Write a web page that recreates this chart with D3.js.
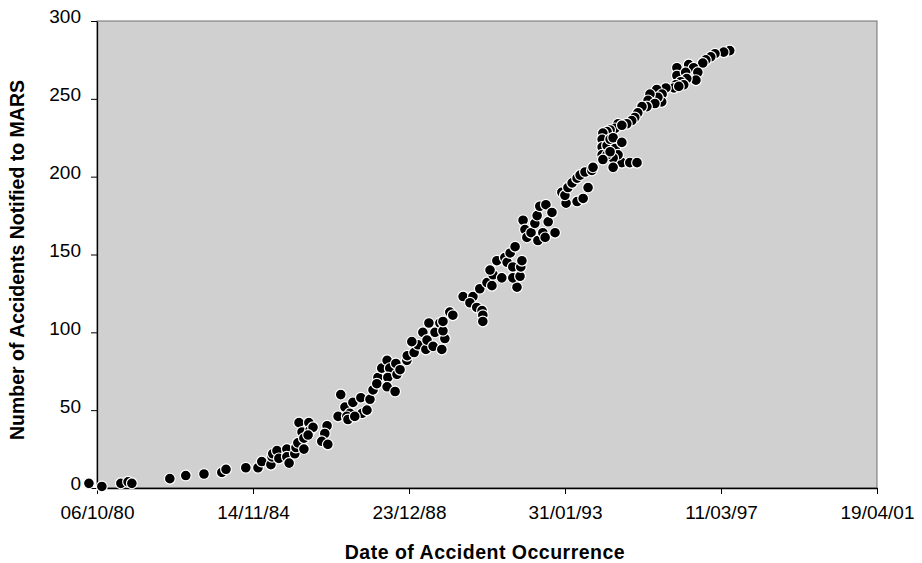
<!DOCTYPE html>
<html>
<head>
<meta charset="utf-8">
<script src="https://cdn.jsdelivr.net/npm/d3@7"></script>
<style>
  body { margin: 0; background: #fff; }
  text { font-family: "Liberation Sans", Arial, sans-serif; fill: #000; }
  .title { font-weight: bold; font-size: 19.5px; }
  .tick text { font-size: 19px; }
</style>
</head>
<body>
<svg id="chart"></svg>
<script>
// occurrence date (decimal year) and number of accidents notified
var region1Years = [1980.55,1980.89,1981.39,1981.58,1981.68,1982.68,1983.10,1983.58,1984.05,1984.16,1984.68,1985.00,1985.10,1985.34,1985.37,1985.39,1985.50,1985.55,1985.76,1985.76,1985.82,1985.97,1986.00,1986.05,1986.08,1986.34,1986.16,1986.21,1986.21,1986.37,1986.45,1986.32,1986.82,1986.76,1986.68,1986.84,1987.11]
var region1Counts = [3,1,3,4,3,6,8,9,10,12,13,13,17,15,20,22,24,19,25,20,16,22,26,29,42,42,36,32,25,37,39,34,40,35,30,28,46]

var region2Years = [1987.18,1987.29,1987.42,1987.50,1987.71,1987.74,1987.95,1987.34,1987.37,1987.55,1987.87,1988.03,1988.16,1988.13,1988.26,1988.40,1988.47,1988.42,1988.40,1988.61,1988.63,1988.66,1988.74,1988.92,1988.93,1989.08,1989.11,1989.21,1989.05,1989.34,1989.50,1989.42,1989.45,1989.61,1989.66,1989.79,1989.92,1989.87,1989.84]
var region2Counts = [60,52,48,55,58,48,57,46,44,46,50,63,71,67,77,82,77,71,65,62,80,73,76,82,85,93,87,92,94,100,106,89,95,91,100,106,96,101,89]

var region3Years = [1990.05,1989.87,1990.13,1990.40,1990.66,1990.58,1990.76,1990.90,1990.92,1990.92,1990.84,1991.03,1991.16,1991.19,1991.11,1991.29,1991.42,1991.50,1991.56,1991.64,1991.71,1991.82,1991.71,1991.90,1991.92,1991.77,1991.95,1991.98,1992.03,1992.08,1992.19,1992.29,1992.35,1992.37,1992.42,1992.50,1992.58,1992.56,1992.64,1992.74,1992.82]
var region3Counts = [113,107,111,123,123,119,116,114,111,107,128,132,130,137,140,146,135,148,145,151,142,129,135,136,142,155,146,172,166,161,164,170,175,159,181,164,182,161,171,177,164]

var region4Years = [1993.00,1993.11,1993.08,1993.16,1993.27,1993.40,1993.48,1993.61,1993.79,1993.40,1993.56,1993.69,1993.82,1994.48,1994.40,1994.27,1994.19,1994.08,1994.06,1994.06,1994.06,1994.19,1994.27,1994.35,1994.40,1994.58,1994.58,1994.48,1994.35,1994.19,1994.27,1994.08,1994.35,1994.79,1994.98]
var region4Counts = [190,183,188,193,196,199,201,203,204,184,186,193,206,234,231,230,229,228,224,219,214,220,224,225,218,222,209,214,212,214,216,211,206,209,209]

var region5Years = [1997.42,1997.26,1997.03,1996.92,1996.79,1996.71,1996.03,1996.34,1996.47,1996.58,1996.53,1996.03,1996.26,1996.29,1996.13,1996.21,1996.00,1995.95,1996.08,1995.74,1995.50,1995.64,1995.63,1995.53,1995.32,1995.27,1995.45,1995.24,1995.11,1995.00,1994.92,1994.84,1994.71,1994.58]
var region5Counts = [281,280,279,277,275,273,270,272,270,267,262,265,267,263,261,259,259,257,258,257,256,253,248,251,253,249,247,245,245,241,238,236,234,233]

var tickLabels = ["06/10/80","14/11/84","23/12/88","31/01/93","11/03/97","19/04/01"]
var yTicks = [0,50,100,150,200,250,300]

var screen = {width:922, height:563}
var plot = {left:97, right:877, top:21, bottom:488}

var parseTick = d3.timeParse("%d/%m/%y")
var tickDates = tickLabels.map(parseTick)

var yearToDate = function(y)
{
    var yr = Math.floor(y)
    var start = new Date(yr,0,1)
    var end = new Date(yr+1,0,1)
    return new Date(start.getTime() + (y-yr)*(end-start))
}

var points = []
var addPoints = function(years,counts)
{
    years.forEach(function(y,i) { points.push({date:yearToDate(y), count:counts[i]}) })
}
addPoints(region1Years,region1Counts)
addPoints(region2Years,region2Counts)
addPoints(region3Years,region3Counts)
addPoints(region4Years,region4Counts)
addPoints(region5Years,region5Counts)

var svg = d3.select("#chart")
    .attr("width",screen.width)
    .attr("height",screen.height)

var xScale = d3.scaleTime()
    .domain([tickDates[0], tickDates[tickDates.length-1]])
    .range([plot.left, plot.right])

var yScale = d3.scaleLinear()
    .domain([0,300])
    .range([plot.bottom, plot.top])

// plot area
svg.append("rect")
    .attr("x",plot.left)
    .attr("y",plot.top)
    .attr("width",plot.right-plot.left)
    .attr("height",plot.bottom-plot.top)
    .attr("fill","#d0d0d0")
    .attr("stroke","#707070")
    .attr("stroke-width",1)

var xAxis = d3.axisBottom(xScale)
    .tickValues(tickDates)
    .tickFormat(d3.timeFormat("%d/%m/%y"))
    .tickSizeInner(6)
    .tickSizeOuter(0)
    .tickPadding(12)

var yAxis = d3.axisLeft(yScale)
    .tickValues(yTicks)
    .tickSizeInner(6)
    .tickSizeOuter(0)
    .tickPadding(10)

var gx = svg.append("g")
    .attr("transform","translate(0,"+plot.bottom+")")
    .call(xAxis)
gx.selectAll("text").attr("dy","0.71em")

var gy = svg.append("g")
    .attr("transform","translate("+plot.left+",0)")
    .call(yAxis)
gy.selectAll("text").attr("dy","0.1em")

svg.selectAll(".domain").attr("stroke","#000").attr("stroke-width",1.3)
svg.selectAll(".tick line").attr("stroke","#000")
svg.selectAll(".tick text").attr("font-family",null).attr("font-size",null)

// dots
svg.append("g")
    .selectAll("circle")
    .data(points)
    .enter()
    .append("circle")
    .attr("cx",function(d) { return xScale(d.date) })
    .attr("cy",function(d) { return yScale(d.count) })
    .attr("r",5.4)
    .attr("fill","#000")
    .attr("stroke","#fff")
    .attr("stroke-width",1.2)

// labels
svg.append("text")
    .classed("title",true)
    .attr("text-anchor","middle")
    .attr("x",485)
    .attr("y",559)
    .style("letter-spacing","0.5px")
    .text("Date of Accident Occurrence")

svg.append("text")
    .classed("title",true)
    .attr("text-anchor","middle")
    .attr("transform","translate(24,260) rotate(-90)")
    .text("Number of Accidents Notified to MARS")
</script>
</body>
</html>
